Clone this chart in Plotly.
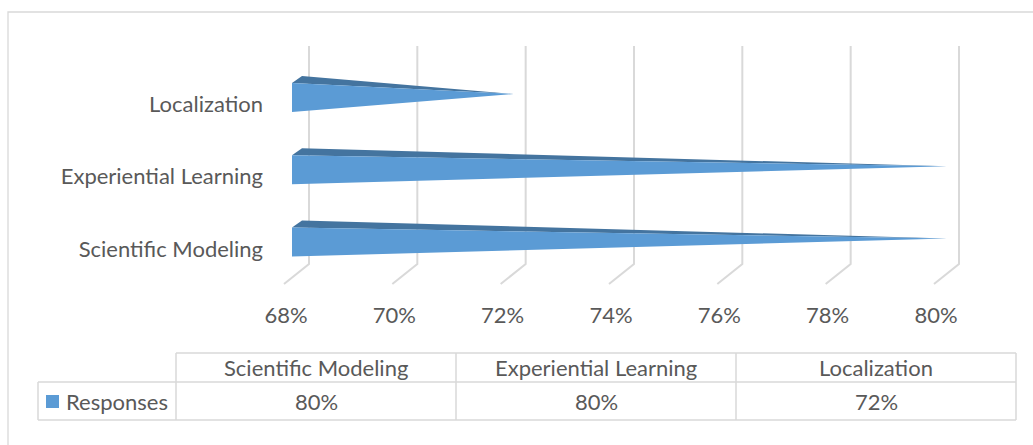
import plotly.graph_objects as go

# ---------------- data ----------------
categories = ["Scientific Modeling", "Experiential Learning", "Localization"]
values = [80, 80, 72]            # percent
series_name = "Responses"
tick_values = [68, 70, 72, 74, 76, 78, 80]
tick_labels = ["68%", "70%", "72%", "74%", "76%", "78%", "80%"]

# ---------------- styling / geometry constants (pixels) ----------------
W, H = 1033, 445
FONT = "Lato"
FS = 22
TXT = "#595959"
FRONT = "#5B9BD5"
TOP = "#44749F"
GRID = "#D9D9D9"

X0_PX, X1_PX = 292, 942          # front-plane position of 68% and 80%
PX_PER_PCT = (X1_PX - X0_PX) / (tick_values[-1] - tick_values[0])
Y0_PX, ROW_PX = 242, 72.25       # front-centre pixel of first category, spacing
BAR_HALF = 14.5 / ROW_PX         # half height of pyramid base (y units)
DX = 10 / PX_PER_PCT             # depth offset x (pct units)
DY = 7 / ROW_PX                  # depth offset y (y units)
GX = 17 / PX_PER_PCT             # back wall offset for gridlines
DIAG_X = 25 / PX_PER_PCT
BASE = tick_values[0]

def px2y(p):
    return (Y0_PX - p) / ROW_PX

def px2x(p):
    return BASE + (p - X0_PX) / PX_PER_PCT

dom_x = (270, 990)
dom_y = (40, 294)

fig = go.Figure()

# gridlines (3D wall + floor edge)
for v in tick_values:
    xb = v + GX
    fig.add_trace(go.Scatter(
        x=[xb, xb, xb - DIAG_X], y=[px2y(46), px2y(264), px2y(284)],
        mode="lines", line=dict(color=GRID, width=2), hoverinfo="skip", showlegend=False))

# pyramids
for i, (cat, v) in enumerate(zip(categories, values)):
    yc = i
    tip_x = v + DX / 2
    tip_y = yc + DY / 2
    # top face
    fig.add_trace(go.Scatter(
        x=[BASE, BASE + DX, tip_x, BASE],
        y=[yc + BAR_HALF, yc + BAR_HALF + DY, tip_y, yc + BAR_HALF],
        mode="lines", fill="toself", fillcolor=TOP, line=dict(width=0, color=TOP),
        hoverinfo="skip", showlegend=False))
    # front face
    fig.add_trace(go.Scatter(
        x=[BASE, BASE, tip_x, BASE],
        y=[yc + BAR_HALF, yc - BAR_HALF, tip_y, yc + BAR_HALF],
        mode="lines", fill="toself", fillcolor=FRONT, line=dict(width=0, color=FRONT),
        name=cat, hoverinfo="skip", showlegend=False))

fig.update_xaxes(
    range=[px2x(dom_x[0]), px2x(dom_x[1])], domain=[dom_x[0] / W, dom_x[1] / W],
    showgrid=False, zeroline=False, showline=False, ticks="", automargin=False,
    tickvals=tick_values, ticktext=tick_labels,
    tickfont=dict(family=FONT, size=FS, color=TXT),
    ticklabelshift=-6, ticklabelstandoff=6)
fig.update_yaxes(
    range=[px2y(dom_y[1]), px2y(dom_y[0])], domain=[1 - dom_y[1] / H, 1 - dom_y[0] / H],
    showgrid=False, zeroline=False, showline=False, ticks="", automargin=False,
    tickvals=list(range(len(categories))), ticktext=categories,
    tickfont=dict(family=FONT, size=FS, color=TXT),
    ticklabelshift=7, ticklabelstandoff=6)

# ---------------- data table ----------------
def px(x):
    return x / W

def py(y):
    return 1 - y / H

shapes = []
def line(x0, y0, x1, y1, color=GRID, width=1.5):
    shapes.append(dict(type="line", xref="paper", yref="paper",
                       x0=px(x0), y0=py(y0), x1=px(x1), y1=py(y1),
                       line=dict(color=color, width=width)))

col_edges = [176, 456, 736, 1016]
row_top, row_mid, row_bot = 353, 382, 420
leg_left = 38
line(col_edges[0], row_top, col_edges[-1], row_top)
line(leg_left, row_mid, col_edges[-1], row_mid)
line(leg_left, row_bot, col_edges[-1], row_bot)
for cx in col_edges:
    line(cx, row_top, cx, row_bot)
line(leg_left, row_mid, leg_left, row_bot)

# legend key square
shapes.append(dict(type="rect", xref="paper", yref="paper",
                   x0=px(46), x1=px(59), y0=py(408), y1=py(395),
                   fillcolor=FRONT, line=dict(width=0)))

# outer chart border
shapes.append(dict(type="rect", xref="paper", yref="paper",
                   x0=px(8), x1=px(1045), y0=py(460), y1=py(12),
                   fillcolor="rgba(0,0,0,0)", line=dict(color=GRID, width=1.3)))

annotations = []
for j, cat in enumerate(categories):
    cxm = (col_edges[j] + col_edges[j + 1]) / 2
    annotations.append(dict(x=px(cxm), y=py(367), xref="paper", yref="paper",
                            text=cat, showarrow=False, xanchor="center", yanchor="middle",
                            font=dict(family=FONT, size=FS, color=TXT)))
    annotations.append(dict(x=px(cxm), y=py(401), xref="paper", yref="paper",
                            text=f"{values[j]}%", showarrow=False, xanchor="center", yanchor="middle",
                            font=dict(family=FONT, size=FS, color=TXT)))
annotations.append(dict(x=px(64), y=py(401), xref="paper", yref="paper",
                        text=series_name, showarrow=False, xanchor="left", yanchor="middle",
                        font=dict(family=FONT, size=FS, color=TXT)))

fig.update_layout(
    width=W, height=H, margin=dict(l=0, r=0, t=0, b=0),
    paper_bgcolor="white", plot_bgcolor="rgba(0,0,0,0)",
    shapes=shapes, annotations=annotations, showlegend=False)

fig.write_html("out.html")
